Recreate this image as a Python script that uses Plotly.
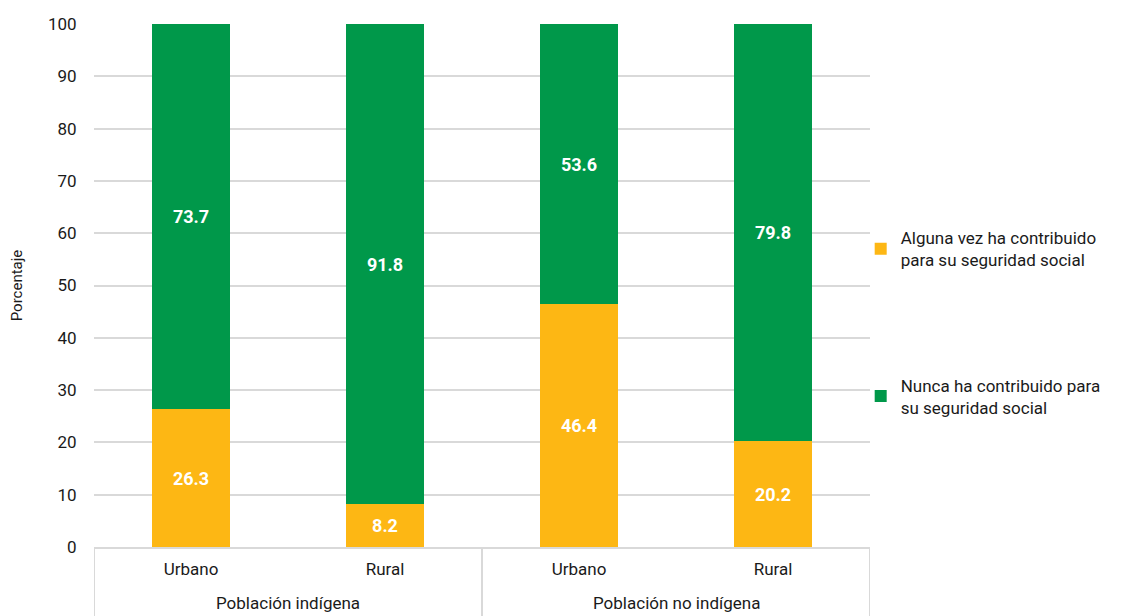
import plotly.graph_objects as go

GRID = "#d9d9d9"
TEXT = "#1a1a1a"
YELLOW = "#FDB714"
GREEN = "#00984A"
FONT = "Roboto, sans-serif"

grupos = ["Población indígena", "Población indígena", "Población no indígena", "Población no indígena"]
ambitos = ["Urbano", "Rural", "Urbano", "Rural"]
alguna_vez = [26.3, 8.2, 46.4, 20.2]
nunca = [73.7, 91.8, 53.6, 79.8]

series = [
    ("Alguna vez ha contribuido<br>para su seguridad social", alguna_vez, YELLOW, "a"),
    ("Nunca ha contribuido para<br>su seguridad social", nunca, GREEN, "b"),
]

idx = list(range(len(ambitos)))

fig = go.Figure()
for name, vals, color, grp in series:
    fig.add_trace(go.Bar(
        x=idx,
        y=vals,
        name=name,
        legendgroup=grp,
        marker=dict(color=color, line=dict(width=0)),
        width=0.4,
        text=[f"{v:.1f}" for v in vals],
        textposition="inside",
        insidetextanchor="middle",
        textfont=dict(color="white", size=18, family=FONT, weight="bold"),
        customdata=list(zip(grupos, ambitos)),
        hovertemplate="%{customdata[0]} - %{customdata[1]}: %{y:.1f}<extra></extra>",
    ))

# group labels and dividers below the axis
group_names = []
for g in grupos:
    if g not in group_names:
        group_names.append(g)
bounds = [-0.5]
for g in group_names:
    members = [i for i, gg in enumerate(grupos) if gg == g]
    fig.add_annotation(
        x=(members[0] + members[-1]) / 2, xref="x",
        y=-0.107, yref="paper", yanchor="middle",
        text=g, showarrow=False, font=dict(size=17, color=TEXT),
    )
    bounds.append(members[-1] + 0.5)
for b in bounds:
    fig.add_shape(
        type="line", xref="x", yref="paper",
        x0=b, x1=b, y0=0, y1=-0.2,
        line=dict(color=GRID, width=2),
    )

fig.update_layout(
    barmode="stack",
    width=1121,
    height=616,
    paper_bgcolor="white",
    plot_bgcolor="white",
    font=dict(family=FONT, color=TEXT, size=17),
    margin=dict(l=86, r=259, t=16, b=77, autoexpand=False),
    uniformtext=dict(mode="show", minsize=12),
    legend=dict(
        x=0.988, xanchor="left", y=0.625, yanchor="top",
        traceorder="grouped", tracegroupgap=100,
        font=dict(size=17, color=TEXT),
        itemwidth=30,
        bgcolor="rgba(0,0,0,0)",
    ),
)
fig.update_xaxes(
    automargin=False,
    range=[-0.5, len(idx) - 0.5],
    tickvals=idx, ticktext=ambitos,
    showgrid=False, zeroline=False,
    showline=True, linecolor=GRID, linewidth=2,
    ticks="outside", ticklen=6, tickcolor="rgba(0,0,0,0)",
    tickfont=dict(size=17),
)
fig.update_yaxes(
    automargin=False,
    range=[0, 100], dtick=10,
    showgrid=True, gridcolor=GRID, gridwidth=2,
    zeroline=False,
    title=dict(text="Porcentaje", font=dict(size=15), standoff=27),
    ticks="outside", ticklen=13, tickcolor="rgba(0,0,0,0)",
    tickfont=dict(size=17),
)

fig.write_html("out.html")
